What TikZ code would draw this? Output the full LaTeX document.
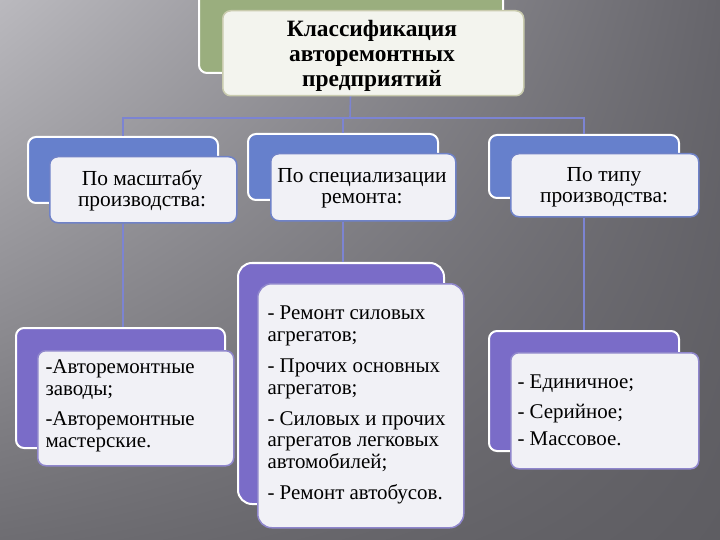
\documentclass[tikz,border=0pt]{standalone}
\usepackage{fontspec}
\setmainfont{Liberation Serif}
\usetikzlibrary{shadings}
\definecolor{bgA}{HTML}{BAB9BE}
\definecolor{bgB}{HTML}{6E6D72}
\definecolor{bgC}{HTML}{66656B}
\definecolor{bgD}{HTML}{5E5D62}
\definecolor{greenback}{HTML}{9AAE7E}
\definecolor{blueback}{HTML}{6680CC}
\definecolor{purpleback}{HTML}{7A6CC8}
\definecolor{frontfill}{HTML}{F1F1F6}
\definecolor{creamfill}{HTML}{F3F4EE}
\definecolor{creamline}{HTML}{C9CBAE}
\definecolor{blueline}{HTML}{6F82C8}
\definecolor{purpleline}{HTML}{8F86CC}
\definecolor{conn}{HTML}{7C84D2}
\tikzset{
  backbox/.style={draw=white, line width=2bp, rounded corners=8bp, anchor=north west, inner sep=0pt},
  frontbox/.style={draw=#1, line width=1.5bp, fill=frontfill, rounded corners=8bp, anchor=north west, inner sep=0pt},
  connector/.style={draw=conn, line width=1.6bp},
  lvltwo/.style={font=\fontsize{21.5}{21}\selectfont, align=center},
  lvlthree/.style={font=\fontsize{21}{22}\selectfont, align=left}
}
\begin{document}
\begin{tikzpicture}[x=1bp,y=-1bp]
\useasboundingbox (0,0) rectangle (720,540);
\shade[upper left=bgA, lower left=bgB, upper right=bgC, lower right=bgD] (0,0) rectangle (720,540);

% coordinate of the bus
\coordinate (bus) at (350,118);

% back boxes
\node[backbox, fill=greenback, minimum width=304bp, minimum height=84bp] (tback) at (198,-12) {};
\node[backbox, fill=blueback, minimum width=190bp, minimum height=66bp] (aback) at (27,136) {};
\node[backbox, fill=blueback, minimum width=190bp, minimum height=66bp] (bback) at (247,133) {};
\node[backbox, fill=blueback, minimum width=190bp, minimum height=63bp] (cback) at (488,134) {};
\node[backbox, fill=purpleback, minimum width=209bp, minimum height=120bp] (dback) at (15,327) {};
\node[backbox, fill=purpleback, minimum width=206bp, minimum height=241bp, rounded corners=14bp] (eback) at (237,262) {};
\node[backbox, fill=purpleback, minimum width=190bp, minimum height=120bp] (fback) at (488,330) {};

% connectors
\draw[connector] (tback.south) -- (bus);
\draw[connector] (aback.north) |- (bus) -| (cback.north);
\draw[connector] (bus) -| (bback.north);

% front boxes
\node[frontbox=creamline, fill=creamfill, minimum width=301bp, minimum height=85bp] (title) at (222,10) {};
\node[font=\bfseries\fontsize{23.5}{25}\selectfont, align=center] (titletext) at (372,55.5) {Классификация\\авторемонтных\\предприятий};

\node[frontbox=blueline, minimum width=187bp, minimum height=66bp] (a) at (49,156) {};
\node[lvltwo] (atext) at (142,191) {По масштабу\\производства:};
\node[frontbox=blueline, minimum width=185bp, minimum height=67bp] (b) at (270,153) {};
\node[lvltwo] (btext) at (362,188) {По специализации\\ремонта:};
\node[frontbox=blueline, minimum width=188bp, minimum height=63bp] (c) at (510,153) {};
\node[lvltwo] (ctext) at (604,187) {По типу\\производства:};

% level two to level three connectors
\draw[connector] (a.south -| aback.south) -- (dback.north -| aback.south);
\draw[connector] (b.south -| bback.south) -- (eback.north -| bback.south);
\draw[connector] (c.south -| cback.south) -- (fback.north -| cback.south);

\node[frontbox=purpleline, minimum width=196bp, minimum height=115bp] (d) at (37,350) {};
\node[lvlthree, anchor=west] (dtext) at (42,406) {-Авторемонтные\\заводы;\\[8bp]-Авторемонтные\\мастерские.};

\node[frontbox=purpleline, minimum width=206bp, minimum height=244bp, rounded corners=14bp] (e) at (257,283) {};
\node[lvlthree, anchor=west] (etext) at (264,405) {- Ремонт силовых\\агрегатов;\\[9bp]- Прочих основных\\агрегатов;\\[9bp]- Силовых и прочих\\агрегатов легковых\\автомобилей;\\[9bp]- Ремонт автобусов.};

\node[frontbox=purpleline, minimum width=188bp, minimum height=116bp] (f) at (510,352) {};
\node[lvlthree, anchor=west] (ftext) at (514,410) {- Единичное;\\[8bp]- Серийное;\\[5bp]- Массовое.};
\end{tikzpicture}
\end{document}
